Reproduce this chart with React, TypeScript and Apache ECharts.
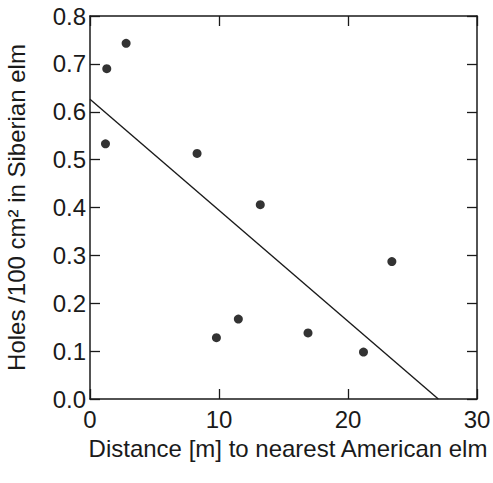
import React, { useEffect, useRef } from "react";
import * as echarts from "echarts";

const xTicks = [0, 10, 20, 30];
const yTicks = [0.0, 0.1, 0.2, 0.3, 0.4, 0.5, 0.6, 0.7, 0.8];
const distance = [1.3, 2.8, 1.2, 8.3, 13.2, 23.4, 9.8, 11.5, 16.9, 21.2];
const holes = [0.69, 0.743, 0.533, 0.513, 0.406, 0.287, 0.128, 0.167, 0.138, 0.098];
const fitX = [0, 27.0];
const fitY = [0.626, 0.0];

const FONT = "'Liberation Sans', Arial, sans-serif";
const INK = "#1a1a1a";

export default function App() {
  const ref = useRef<HTMLDivElement>(null);
  useEffect(() => {
    if (!ref.current) return;
    const chart = echarts.init(ref.current, undefined, { renderer: "svg" });
    const mkLine = () => ({ show: true, onZero: false, lineStyle: { color: INK, width: 1.5 } });
    const mkTick = () => ({ show: true, inside: true, length: 10, lineStyle: { color: INK, width: 1.3 } });
    chart.setOption({
      animation: false,
      backgroundColor: "#ffffff",
      grid: {
        left: 90,
        right: 16,
        top: 16,
        bottom: 84,
        containLabel: false,
        outerBoundsMode: "none",
      },
      xAxis: [
        {
          type: "value",
          min: xTicks[0],
          max: xTicks[xTicks.length - 1],
          interval: 10,
          position: "bottom",
          axisLine: mkLine(),
          axisTick: mkTick(),
          splitLine: { show: false },
          axisLabel: {
            color: INK,
            fontFamily: FONT,
            fontSize: 24,
            margin: 8,
            formatter: (v: number) => (xTicks.includes(v) ? String(v) : ""),
          },
          name: "Distance [m] to nearest American elm",
          nameLocation: "middle",
          nameGap: 37,
          nameTextStyle: { color: INK, fontFamily: FONT, fontSize: 24, padding: [0, 0, 0, 9] },
        },
        {
          type: "value",
          min: xTicks[0],
          max: xTicks[xTicks.length - 1],
          interval: 10,
          position: "top",
          axisLine: mkLine(),
          axisTick: mkTick(),
          splitLine: { show: false },
          axisLabel: { show: false },
        },
      ],
      yAxis: [
        {
          type: "value",
          min: yTicks[0],
          max: yTicks[yTicks.length - 1],
          interval: 0.1,
          position: "left",
          axisLine: mkLine(),
          axisTick: mkTick(),
          splitLine: { show: false },
          axisLabel: {
            color: INK,
            fontFamily: FONT,
            fontSize: 24,
            margin: 4,
            formatter: (v: number) => v.toFixed(1),
          },
          name: "Holes /100 cm² in Siberian elm",
          nameLocation: "middle",
          nameGap: 62,
          nameTextStyle: { color: INK, fontFamily: FONT, fontSize: 24 },
        },
        {
          type: "value",
          min: yTicks[0],
          max: yTicks[yTicks.length - 1],
          interval: 0.1,
          position: "right",
          axisLine: mkLine(),
          axisTick: mkTick(),
          splitLine: { show: false },
          axisLabel: { show: false },
        },
      ],
      series: [
        {
          type: "line",
          data: fitX.map((x, i) => [x, fitY[i]]),
          showSymbol: false,
          symbol: "none",
          lineStyle: { color: INK, width: 1.4 },
          silent: true,
        },
        {
          type: "scatter",
          data: distance.map((x, i) => [x, holes[i]]),
          symbol: "circle",
          symbolSize: 9,
          itemStyle: { color: "#000000" },
        },
      ],
    });
    return () => chart.dispose();
  }, []);
  return (
    <div
      ref={ref}
      style={{ position: "fixed", left: 0, top: 0, width: 493, height: 483 }}
    />
  );
}
